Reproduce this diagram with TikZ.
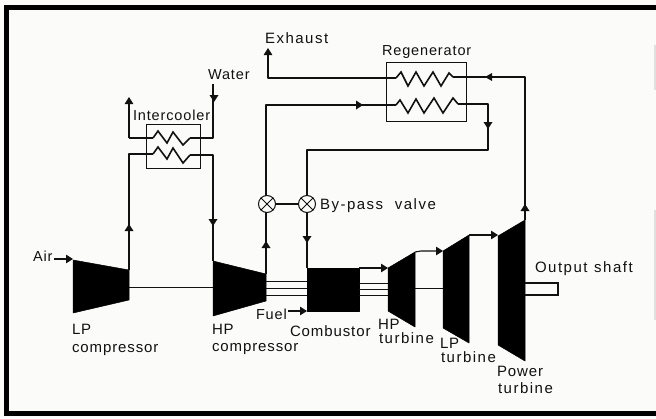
\documentclass[tikz,border=0pt]{standalone}
\usepackage{fontspec}
\setmainfont[LetterSpace=6]{Liberation Sans}
\newfontfamily\widefam[LetterSpace=10]{Liberation Sans}
\usetikzlibrary{arrows.meta}
\definecolor{ink}{HTML}{111111}
\definecolor{paper}{HTML}{FBFBFA}
\tikzset{
  pipe/.style={draw=ink,line width=1.1pt,line join=round},
  shaft/.style={draw=ink,line width=1pt},
  bx/.style={draw=ink,line width=1pt},
  coil/.style={draw=ink,line width=1.6pt,line join=miter},
  solid machine/.style={fill=black,draw=black,line width=.5pt,line join=round},
  lab/.style={anchor=base west,inner sep=0pt,outer sep=0pt,text=ink,font=\fontsize{15}{16}\selectfont},
  labs/.style={lab,font=\fontsize{14.5}{16}\selectfont},
  labw/.style={lab,font=\fontsize{15}{16}\selectfont\widefam},
  tip/.style={-{Triangle[length=7pt,width=8.5pt]}},
  valve/.style={circle,draw=ink,line width=1pt,minimum size=17pt,inner sep=0pt,fill=paper},
}
\newcommand{\marku}[2]{\fill[ink] (#1-4.5,#2+3) -- (#1,#2-4) -- (#1+4.5,#2+3) -- cycle;}
\newcommand{\markd}[2]{\fill[ink] (#1-4.5,#2-3) -- (#1,#2+4) -- (#1+4.5,#2-3) -- cycle;}
\newcommand{\markr}[2]{\fill[ink] (#1-3,#2-4.5) -- (#1+4,#2) -- (#1-3,#2+4.5) -- cycle;}
\newcommand{\markl}[2]{\fill[ink] (#1+3,#2-4) -- (#1-4,#2) -- (#1+3,#2+4) -- cycle;}
\begin{document}
\begin{tikzpicture}[x=1pt,y=-1pt]
\useasboundingbox (0,0) rectangle (656,418);
\fill[paper] (0,0) rectangle (656,418);
% frame
\fill[black] (4,5) rectangle (656,10);
\fill[black] (4,5) rectangle (9,416);
\fill[black] (4,411) rectangle (656,416);
\fill[black!12] (654,45) rectangle (656,90);
\fill[black!12] (654,210) rectangle (656,320);
% machines
\path[solid machine] (73,260) -- (129,270) -- (129,300) -- (73,313) -- cycle;
\path[solid machine] (213,261) -- (266,274) -- (266,301) -- (213,316) -- cycle;
\path[solid machine] (307,268) rectangle (359,311);
\path[solid machine] (388,268) -- (415,252) -- (415,327) -- (388,311) -- cycle;
\path[solid machine] (443,251) -- (469,235) -- (469,343) -- (443,328) -- cycle;
\path[solid machine] (498,236) -- (525,220) -- (525,361) -- (498,345) -- cycle;
\coordinate (lpo) at (129,270);
\coordinate (hpi) at (213,261);
\coordinate (hpo) at (266,274);
\coordinate (cbi) at (307,268);
\coordinate (ptt) at (525,220);
% shafts
\draw[shaft] (129,287) -- (213,287);
\foreach \y in {281,288,295} \draw[shaft] (266,\y) -- (307,\y);
\foreach \y in {283,289,295} \draw[shaft] (359,\y) -- (388,\y);
\draw[shaft] (415,288) -- (443,288);
\draw[shaft,line width=1.2pt] (525,283) -- (558,283) -- (558,295) -- (525,295);
% intercooler
\draw[bx] (146,124) rectangle (200,168);
\draw[pipe,tip] (129,138) -- (129,97);
\draw[pipe] (129,138) -- (153,138);
\draw[coil] (153,138) -- (158,131) -- (167,143) -- (173,132) -- (183,145) -- (190,138);
\draw[pipe] (190,138) -- (213,138) -- (213,84);
\draw[pipe] (lpo) -- (129,154) -- (153,154);
\draw[coil] (153,154) -- (158,147) -- (167,159) -- (173,148) -- (183,163) -- (190,155);
\draw[pipe] (190,155) -- (213,155) -- (hpi);
\marku{129}{228}
\markd{213}{222}
\markd{214}{98}
% regenerator
\draw[bx] (386,62) rectangle (466,121);
\draw[pipe,tip] (396,78) -- (268,78) -- (268,48);
\draw[coil] (396,78) -- (401,72) -- (408,86) -- (416,72) -- (424,86) -- (433,72) -- (441,86) -- (449,73) -- (453,77);
\draw[pipe] (453,77) -- (525,77) -- (ptt);
\markl{489}{77}
\marku{525}{208}
\draw[pipe] (hpo) -- (266,105) -- (396,105);
\draw[coil] (396,105) -- (400,100) -- (408,113) -- (416,99) -- (424,113) -- (434,98) -- (443,113) -- (453,98) -- (458,104);
\draw[pipe] (458,104) -- (488,104) -- (488,150) -- (307,150) -- (cbi);
\markr{359}{105}
\markd{488}{125}
\markd{307}{239}
\marku{266}{245}
% valves
\node[valve] (v1) at (267,204) {};
\node[valve] (v2) at (307,204) {};
\draw[pipe] (v1) -- (v2);
\foreach \v in {v1,v2}{
  \draw[ink,line width=.9pt] (\v.north west) -- (\v.south east);
  \draw[ink,line width=.9pt] (\v.north east) -- (\v.south west);
}
% inlet arrows
\coordinate (airs) at (54,259);
\coordinate (fuels) at (288,311);
\draw[pipe,tip] (airs) -- (73,259);
\draw[pipe,tip] (fuels) -- (307,311);
\draw[pipe,tip] (359,268) -- (388,268);
\draw[pipe,tip] (415,252) -- (421,251) -- (443,251);
\draw[pipe,tip] (469,235) -- (498,235);
% labels
\node[labw] (t1) at (265,43) {Exhaust};
\node[labs] (t2) at (208,79) {Water};
\node[labs] (t3) at (133,120) {Intercooler};
\node[labs] (t4) at (382,55) {Regenerator};
\node[labw] (t5) at (320,209) {By-pass\hspace{6pt} valve};
\node[labs] (t6) at (33,261) {Air};
\node[labs] (t7) at (256,319) {Fuel};
\node[lab] (t8) at (72,334) {LP};
\node[lab] (t9) at (72,352) {compressor};
\node[lab] (t10) at (212,334) {HP};
\node[lab] (t11) at (212,351) {compressor};
\node[lab] (t12) at (290,336) {Combustor};
\node[lab] (t13) at (378,329) {HP};
\node[labw] (t14) at (379,343) {turbine};
\node[lab] (t15) at (440,348) {LP};
\node[labw] (t16) at (441,362) {turbine};
\node[lab] (t17) at (497,376) {Power};
\node[labw] (t18) at (498,393) {turbine};
\node[labw] (t19) at (535,272) {Output\hspace{1pt} shaft};
\end{tikzpicture}
\end{document}
